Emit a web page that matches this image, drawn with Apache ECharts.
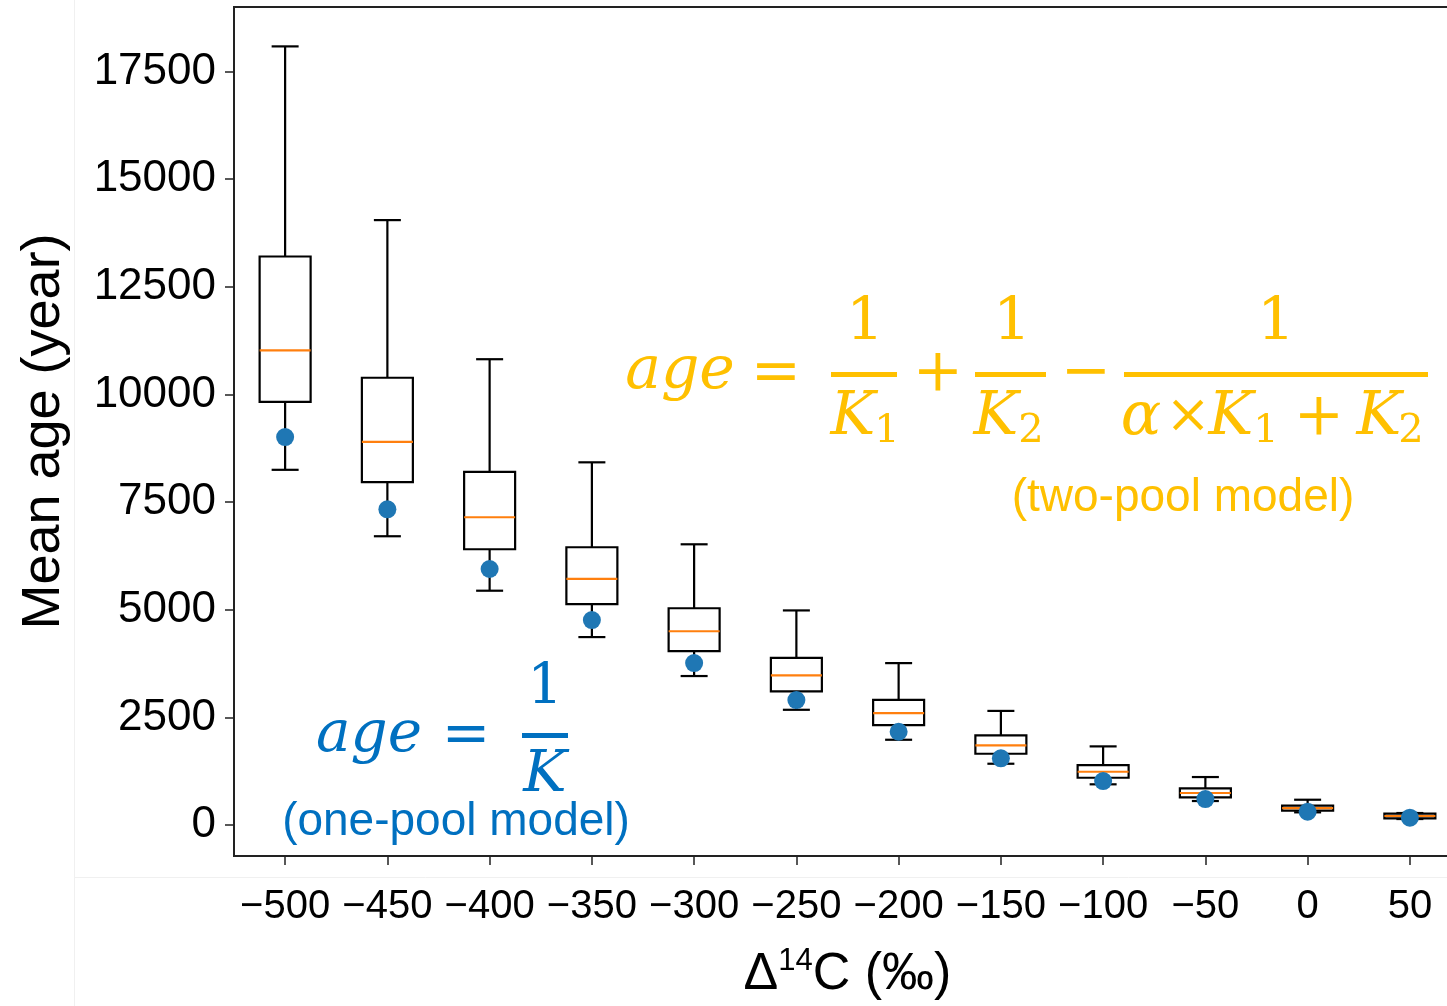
<!DOCTYPE html>
<html>
<head>
<meta charset="utf-8">
<script src="https://cdn.jsdelivr.net/npm/echarts@6/dist/echarts.min.js"></script>
<style>
  html, body { margin: 0; padding: 0; background: #fff; overflow: hidden; width: 1447px; height: 1006px; }
  #chart { width: 1480px; height: 1006px; }
</style>
</head>
<body>
<div id="chart"></div>
<script>
// Δ14C categories (‰)
const categories = ['\u2212500', '\u2212450', '\u2212400', '\u2212350', '\u2212300', '\u2212250',
  '\u2212200', '\u2212150', '\u2212100', '\u221250', '0', '50'];
// two-pool model box statistics (years)
const whiskerLow = [8250, 6707, 5442, 4365, 3460, 2676, 1980, 1423, 945, 557, 294, 139];
const q1 = [9828, 7965, 6405, 5129, 4040, 3103, 2321, 1655, 1098, 642, 333, 155];
const median = [11023, 8900, 7148, 5716, 4500, 3474, 2599, 1850, 1237, 743, 394, 209];
const q3 = [13205, 10388, 8204, 6452, 5035, 3884, 2908, 2083, 1392, 851, 448, 262];
const whiskerHigh = [18085, 14050, 10819, 8424, 6520, 4984, 3760, 2650, 1826, 1114, 587, 278];
// one-pool model mean age
const onePool = [9011, 7333, 5946, 4760, 3760, 2901, 2166, 1548, 1021, 603, 308, 169];
// y axis ticks
const yTicks = [0, 2500, 5000, 7500, 10000, 12500, 15000, 17500];

const ORANGE = '#FFC000';
const BLUE = '#0070C0';
const MATH = 'DejaVu Serif';

const myChart = echarts.init(document.getElementById('chart'));

const boxData = categories.map((c, i) => [i, whiskerLow[i], q1[i], median[i], q3[i], whiskerHigh[i]]);
const dotData = categories.map((c, i) => [i, onePool[i]]);

// text helper for the formula annotations
function txt(text, x, y, size, color, opts) {
  return Object.assign({
    type: 'text', x: x, y: y, z: 10,
    style: Object.assign({
      text: text, fill: color, fontSize: size, fontFamily: MATH,
      align: 'center', verticalAlign: 'middle'
    }, (opts && opts.style) || {})
  }, (opts && opts.el) || {});
}
function bar(x1, x2, y, color) {
  return { type: 'rect', z: 10, shape: { x: x1, y: y, width: x2 - x1, height: 5 }, style: { fill: color } };
}
const it = { style: { fontStyle: 'italic' } };

const graphics = [
  // faint slide border
  { type: 'line', shape: { x1: 74.5, y1: 0, x2: 74.5, y2: 1006 }, style: { stroke: '#f0f0f0', lineWidth: 1 } },
  { type: 'line', shape: { x1: 74, y1: 877.5, x2: 1480, y2: 877.5 }, style: { stroke: '#f0f0f0', lineWidth: 1 } },
  // two-pool formula
  txt('age', 680, 372, 60, ORANGE, it),
  txt('=', 776, 374, 60, ORANGE),
  txt('1', 865, 324, 60, ORANGE),
  bar(831, 897, 372, ORANGE),
  txt('K', 853, 418, 60, ORANGE, it),
  txt('1', 887, 432, 40, ORANGE),
  txt('+', 938, 374, 60, ORANGE),
  txt('1', 1012, 324, 60, ORANGE),
  bar(975, 1046, 372, ORANGE),
  txt('K', 996, 418, 60, ORANGE, it),
  txt('2', 1031, 432, 40, ORANGE),
  txt('\u2212', 1086, 374, 60, ORANGE),
  txt('1', 1276, 324, 60, ORANGE),
  bar(1124, 1428, 372, ORANGE),
  txt('\u03b1', 1141, 418, 60, ORANGE, it),
  txt('\u00d7', 1188, 418, 54, ORANGE),
  txt('K', 1231, 418, 60, ORANGE, it),
  txt('1', 1266, 432, 40, ORANGE),
  txt('+', 1319, 418, 60, ORANGE),
  txt('K', 1379, 418, 60, ORANGE, it),
  txt('2', 1411, 432, 40, ORANGE),
  txt('(two-pool model)', 1183, 498, 46, ORANGE, { style: { fontFamily: 'Liberation Sans' } }),
  // one-pool formula
  txt('age', 369, 736, 58, BLUE, it),
  txt('=', 466, 737, 58, BLUE),
  txt('1', 545, 688, 56, BLUE),
  bar(522, 568, 733, BLUE),
  txt('K', 545, 776, 58, BLUE, it),
  txt('(one-pool model)', 456, 822, 46, BLUE, { style: { fontFamily: 'Liberation Sans' } })
];

myChart.setOption({
  animation: false,
  backgroundColor: '#fff',
  grid: {
    left: 234, right: 19, top: 7, bottom: 145,
    show: true, borderColor: '#222', borderWidth: 2
  },
  xAxis: {
    type: 'category',
    data: categories,
    boundaryGap: true,
    axisLine: { show: true, onZero: false, lineStyle: { color: '#222', width: 2 } },
    axisTick: { show: true, alignWithLabel: true, interval: 0, length: 9, lineStyle: { color: '#222', width: 1.5 } },
    axisLabel: { color: '#000', fontSize: 40, fontFamily: 'Liberation Sans', margin: 31, interval: 0, hideOverlap: false },
    splitLine: { show: false },
    name: '{a|\u0394}{s|14}{a|C (\u2030)}',
    nameLocation: 'middle',
    nameGap: 90,
    nameTextStyle: {
      rich: {
        a: { fontSize: 52, fontFamily: 'Liberation Sans', color: '#000', lineHeight: 58 },
        s: { fontSize: 31, fontFamily: 'Liberation Sans', color: '#000', lineHeight: 58, verticalAlign: 'top', padding: [0, 0, 22, 0] }
      }
    }
  },
  yAxis: {
    type: 'value',
    min: -720,
    max: 19000,
    axisLine: { show: true, lineStyle: { color: '#222', width: 2 } },
    axisTick: { show: true, length: 9, customValues: yTicks, lineStyle: { color: '#222', width: 1.5 } },
    axisLabel: {
      color: '#000', fontSize: 44, fontFamily: 'Liberation Sans', margin: 18, customValues: yTicks,
      formatter: v => String(v)
    },
    splitLine: { show: false },
    name: 'Mean age (year)',
    nameLocation: 'middle',
    nameGap: 163,
    nameTextStyle: { fontSize: 54, fontFamily: 'Liberation Sans', color: '#000' }
  },
  series: [
    {
      type: 'custom',
      z: 2,
      data: boxData,
      encode: { x: 0, y: [1, 2, 3, 4, 5] },
      renderItem: function (params, api) {
        const cx = api.coord([api.value(0), 0])[0];
        const py = v => api.coord([api.value(0), v])[1];
        const yLow = py(api.value(1)), yQ1 = py(api.value(2)), yMed = py(api.value(3));
        const yQ3 = py(api.value(4)), yHigh = py(api.value(5));
        const hw = 25.5, cw = 13.5;
        const k = { stroke: '#000', lineWidth: 2.2, fill: null };
        return {
          type: 'group',
          children: [
            { type: 'line', shape: { x1: cx, y1: yHigh, x2: cx, y2: yQ3 }, style: k },
            { type: 'line', shape: { x1: cx, y1: yQ1, x2: cx, y2: yLow }, style: k },
            { type: 'line', shape: { x1: cx - cw, y1: yHigh, x2: cx + cw, y2: yHigh }, style: k },
            { type: 'line', shape: { x1: cx - cw, y1: yLow, x2: cx + cw, y2: yLow }, style: k },
            { type: 'rect', shape: { x: cx - hw, y: yQ3, width: hw * 2, height: yQ1 - yQ3 }, style: k },
            { type: 'line', shape: { x1: cx - hw, y1: yMed, x2: cx + hw, y2: yMed }, style: { stroke: '#ff7f0e', lineWidth: 2.2 } }
          ]
        };
      }
    },
    {
      type: 'scatter',
      z: 3,
      data: dotData,
      symbolSize: 18,
      itemStyle: { color: '#1f77b4', opacity: 1 }
    }
  ],
  graphic: graphics
});
</script>
</body>
</html>
